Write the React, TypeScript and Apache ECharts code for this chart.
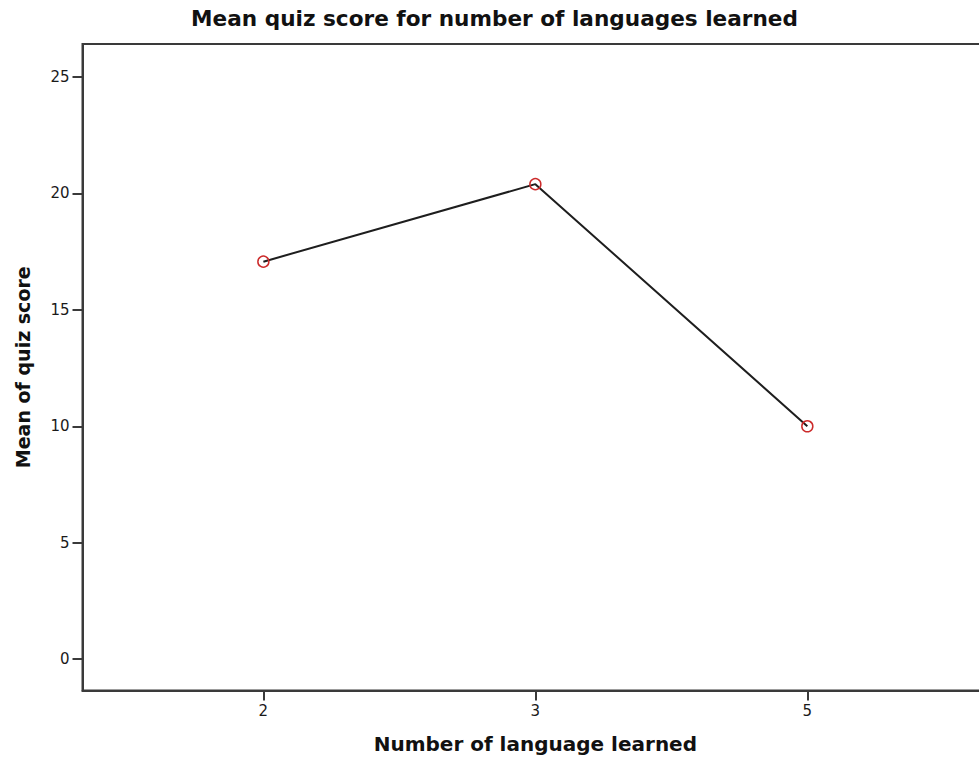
import React, { useEffect, useRef } from "react";
import * as echarts from "echarts";

const categories = ["2", "3", "5"];
const meanScores = [17.07, 20.4, 10.0];
const yTickValues = [0, 5, 10, 15, 20, 25];
const titleText = "Mean quiz score for number of languages learned";
const xAxisTitle = "Number of language learned";
const yAxisTitle = "Mean of quiz score";

const FONT = "'DejaVu Sans', 'Liberation Sans', Arial, sans-serif";
const AXIS_COLOR = "#3a3a3a";

export default function App() {
  const ref = useRef<HTMLDivElement>(null);
  useEffect(() => {
    if (!ref.current) return;
    const chart = echarts.init(ref.current, undefined, { renderer: "svg" });
    const seriesData = meanScores.map((v, i) => [i, v]);
    chart.setOption({
      animation: false,
      backgroundColor: "#ffffff",
      graphic: [
        {
          type: "text",
          x: 494.5,
          y: 7,
          style: {
            text: titleText,
            font: `bold 21.6px ${FONT}`,
            fill: "#111",
            align: "center",
            verticalAlign: "top",
          },
        },
      ],
      grid: {
        left: 82.5,
        right: 1000 - 988.2,
        top: 44,
        bottom: 761 - 690.5,
        show: true,
        borderColor: AXIS_COLOR,
        borderWidth: 2,
        backgroundColor: "transparent",
      },
      xAxis: {
        type: "value",
        min: -0.665,
        max: 2.665,
        splitLine: { show: false },
        axisLine: { show: true, onZero: false, lineStyle: { color: AXIS_COLOR, width: 2 } },
        axisTick: {
          show: true,
          length: 10,
          customValues: [0, 1, 2],
          lineStyle: { color: AXIS_COLOR, width: 2 },
        },
        axisLabel: {
          customValues: [0, 1, 2],
          formatter: (v: number) => categories[Math.round(v)] ?? "",
          fontFamily: FONT,
          fontSize: 15,
          color: "#1a1a1a",
          margin: 13,
        },
        name: xAxisTitle,
        nameLocation: "middle",
        nameGap: 43,
        nameTextStyle: { fontFamily: FONT, fontSize: 20, fontWeight: "bold", color: "#111" },
      },
      yAxis: {
        type: "value",
        min: -1.35,
        max: 26.42,
        splitLine: { show: false },
        axisLine: { show: true, onZero: false, lineStyle: { color: AXIS_COLOR, width: 2 } },
        axisTick: {
          show: true,
          length: 10,
          customValues: yTickValues,
          lineStyle: { color: AXIS_COLOR, width: 2 },
        },
        axisLabel: {
          customValues: yTickValues,
          fontFamily: FONT,
          fontSize: 15,
          color: "#1a1a1a",
          margin: 13,
        },
        name: yAxisTitle,
        nameLocation: "middle",
        nameGap: 50,
        nameTextStyle: { fontFamily: FONT, fontSize: 19, fontWeight: "bold", color: "#111" },
      },
      series: [
        {
          type: "line",
          data: seriesData,
          symbol: "circle",
          symbolSize: 11,
          lineStyle: { color: "#1e1e1e", width: 2 },
          itemStyle: { color: "transparent", borderColor: "#cc2b2b", borderWidth: 1.5 },
        },
      ],
    });
    return () => chart.dispose();
  }, []);
  return (
    <div style={{ position: "fixed", left: 0, top: 0, width: 979, height: 761, overflow: "hidden", background: "#fff" }}>
      <div ref={ref} style={{ width: 1000, height: 761 }} />
    </div>
  );
}
